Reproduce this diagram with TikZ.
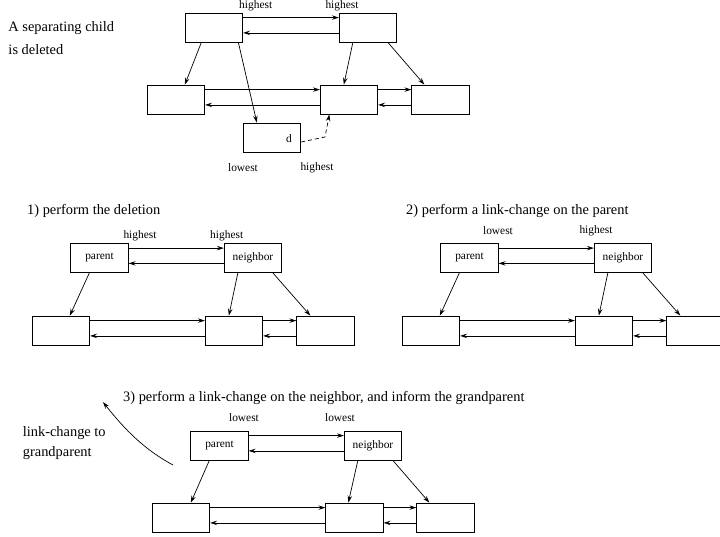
\documentclass[tikz,border=0pt]{standalone}
\usepackage{fontspec}
\setmainfont{Liberation Serif}
\usetikzlibrary{calc,arrows.meta}
\newcommand\linkpair[2]{%
  \draw[arr] ($(#1.north east)+(0,5)$) -- ($(#2.north west)+(0,5)$);
  \draw[arr] ($(#2.south west)+(0,-9.5)$) -- ($(#1.south east)+(0,-9.5)$);}
\begin{document}
\begin{tikzpicture}[x=1pt,y=-1pt,
  box/.style={draw, line width=0.8pt, minimum width=57.5pt, minimum height=29pt, inner sep=0pt, font=\fontsize{11.4}{13}\selectfont},
  arr/.style={line width=0.7pt, -{Stealth[length=7pt,width=4.5pt,inset=2.5pt]}},
  dsh/.style={arr, dash pattern=on 4pt off 3pt},
  lbl/.style={inner sep=0pt, font=\fontsize{11.4}{13}\selectfont},
  big/.style={inner sep=0pt, anchor=west, font=\fontsize{14.4}{21}\selectfont}]
\clip (0,0) rectangle (720,537);

% ---------- top diagram ----------
\node[big] (t0a) at (8.3,28.3) {A separating child};
\node[big] (t0b) at (8.3,49.3) {is deleted};
\node[box] (A) at (214,27.5) {};
\node[box] (B) at (368,27.5) {};
\node[box] (C) at (176,99.5) {};
\node[box] (D) at (349,99.5) {};
\node[box] (E) at (440.5,99.5) {};
\node[box] (X) at (272,137.5) {};
\node[lbl] (Xd) at (289,138.5) {d};
\node[lbl] (h1) at (255.7,5.6) {highest};
\node[lbl] (h2) at (342,5.6) {highest};
\node[lbl] (l3) at (243,168) {lowest};
\node[lbl] (h3) at (317,168) {highest};
\linkpair{A}{B}
\linkpair{C}{D}
\linkpair{D}{E}
\draw[arr] ($(A.south west)+(16.5,0)$) -- ($(C.north west)+(38,0)$);
\draw[arr] ($(A.south west)+(53.5,0)$) -- ($(X.north west)+(14,0)$);
\draw[arr] ($(B.south west)+(14,0)$) -- ($(D.north west)+(24,0)$);
\draw[arr] ($(B.south west)+(49,0)$) -- ($(E.north west)+(13,0)$);
\coordinate (bend) at (325,137);
\draw[dsh] ($(X.east)+(0,4.5)$) -- (bend) -- ($(D.south west)+(9.5,0)$);

% ---------- 1) ----------
\node[big] (t1) at (27,210.7) {1) perform the deletion};
\node[box] (P1) at (99.5,258) {parent};
\node[box] (N1) at (253,258) {neighbor};
\node[box] (L1) at (61,330.5) {};
\node[box] (M1) at (234,330.5) {};
\node[box] (R1) at (325.5,330.5) {};
\node[lbl] (a1) at (140,235.7) {highest};
\node[lbl] (b1) at (226.7,235.7) {highest};
\linkpair{P1}{N1}
\linkpair{L1}{M1}
\linkpair{M1}{R1}
\draw[arr] ($(P1.south west)+(19,0)$) -- ($(L1.north west)+(38,0)$);
\draw[arr] ($(N1.south west)+(14,0)$) -- ($(M1.north west)+(24,0)$);
\draw[arr] ($(N1.south west)+(49,0)$) -- ($(R1.north west)+(14,0)$);

% ---------- 2) ----------
\node[big] (t2) at (406,210.7) {2) perform a link-change on the parent};
\node[box] (P2) at (469.5,258) {parent};
\node[box] (N2) at (623,258) {neighbor};
\node[box] (L2) at (431,330.5) {};
\node[box] (M2) at (604,330.5) {};
\node[box] (R2) at (695.5,330.5) {};
\node[lbl] (a2) at (498,231) {lowest};
\node[lbl] (b2) at (596,231) {highest};
\linkpair{P2}{N2}
\linkpair{L2}{M2}
\linkpair{M2}{R2}
\draw[arr] ($(P2.south west)+(19,0)$) -- ($(L2.north west)+(38,0)$);
\draw[arr] ($(N2.south west)+(14,0)$) -- ($(M2.north west)+(24,0)$);
\draw[arr] ($(N2.south west)+(49,0)$) -- ($(R2.north west)+(14,0)$);

% ---------- 3) ----------
\node[big] (t3) at (123,398) {3) perform a link-change on the neighbor, and inform the grandparent};
\node[big] (g1) at (22.7,432.7) {link-change to};
\node[big] (g2) at (22.7,453.3) {grandparent};
\coordinate (ct) at (173,465);
\coordinate (ch) at (103,402);
\draw[arr] (ct) .. controls (145,450) and (125,430) .. (ch);
\node[box] (P3) at (219.5,445.5) {parent};
\node[box] (N3) at (373,445.5) {neighbor};
\node[box] (L3) at (181,517.5) {};
\node[box] (M3) at (354.5,517.5) {};
\node[box] (R3) at (445.5,517.5) {};
\node[lbl] (a3) at (244,418) {lowest};
\node[lbl] (b3) at (340,418) {lowest};
\linkpair{P3}{N3}
\linkpair{L3}{M3}
\linkpair{M3}{R3}
\draw[arr] ($(P3.south west)+(19,0)$) -- ($(L3.north west)+(39,0)$);
\draw[arr] ($(N3.south west)+(14,0)$) -- ($(M3.north west)+(23,0)$);
\draw[arr] ($(N3.south west)+(49,0)$) -- ($(R3.north west)+(13,0)$);
\end{tikzpicture}
\end{document}
